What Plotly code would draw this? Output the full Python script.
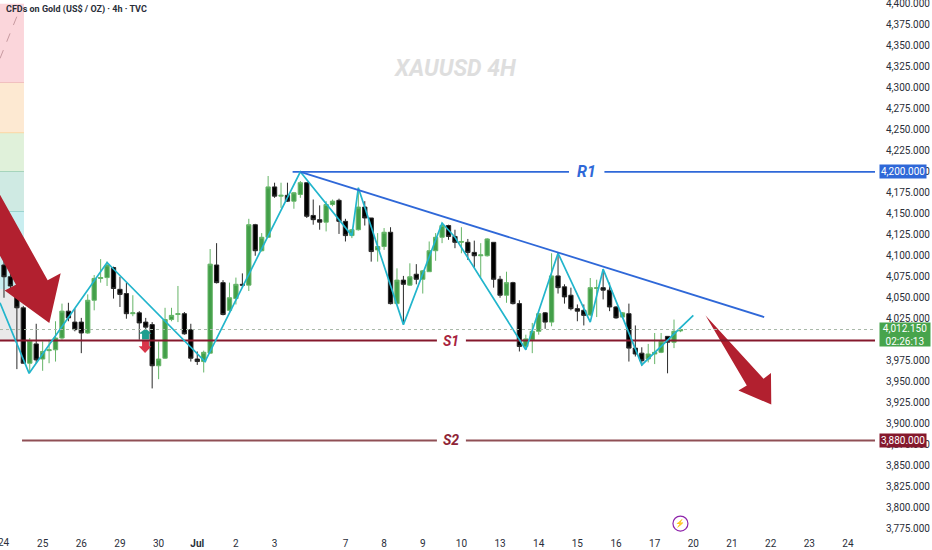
import plotly.graph_objects as go

# candles
opens = [4089, 4075, 4064, 4038, 3972, 3995, 3977, 3987, 3988, 4002, 4034, 4021, 4021, 4008, 4047, 4073, 4074, 4086,
         4060, 4055, 4031, 4032, 4021, 4018, 3969, 3978, 4024, 4030, 4031, 4012, 3977, 3974, 3984, 4089, 4068, 4035,
         4049, 4066, 4065, 4137, 4106, 4122, 4182, 4171, 4172, 4165, 4173, 4187, 4148, 4143, 4140, 4161, 4166, 4141,
         4124, 4131, 4158, 4145, 4107, 4111, 4128, 4043, 4071, 4065, 4078, 4072, 4081, 4106, 4122, 4136, 4123, 4116,
         4116, 4104, 4100, 4100, 4116, 4072, 4053, 4068, 4043, 3992, 4000, 4010, 4032, 4021, 4076, 4063, 4053, 4037,
         4035, 4029.5, 4061, 4062, 4059, 4039, 4027, 4031, 3990, 3984, 3977, 3983, 3985, 4004, 3997, 4010.5]
highs = [4095, 4097, 4068, 4040, 4002, 4019, 3998, 4000, 4022, 4043, 4044, 4037, 4026, 4054, 4077, 4096, 4093, 4087,
         4075, 4068, 4053, 4034, 4026, 4021, 3998, 4038, 4038, 4064, 4033, 4019, 3986, 3987, 4108, 4115, 4071, 4068,
         4074, 4079, 4144, 4138, 4127, 4195, 4187, 4187, 4187, 4176, 4189, 4187, 4167, 4160, 4165, 4167, 4168, 4144,
         4132, 4181, 4165, 4145, 4127, 4133, 4134, 4085, 4076, 4091, 4090, 4083, 4117, 4127, 4139, 4137, 4131, 4134,
         4120, 4118, 4115, 4121, 4116, 4076, 4081, 4069, 4047, 4006, 4020, 4032, 4033, 4103, 4101, 4066, 4062, 4042,
         4042, 4073.5, 4071.5, 4084, 4068, 4040, 4033, 4043, 4017, 3991, 3995, 4008, 4008, 4004, 4024, 4013]
lows = [4050, 4056, 3965, 3972, 3961, 3972, 3963, 3972, 3974, 4000, 4022, 4010, 3984, 4007, 4035, 4068, 4064, 4049,
        4039, 4025, 4028, 4000, 4006, 3942, 3953, 3977, 4022, 4021, 4006, 3974, 3970, 3961, 3984, 4067, 4029, 4032,
        4042, 4062, 4058, 4100, 4105, 4122, 4169, 4157, 4164, 4156, 4169, 4145, 4137, 4131, 4129, 4159, 4126, 4117,
        4121, 4130, 4136, 4093, 4093, 4107, 4042, 4042, 4018, 4064, 4066, 4055, 4081, 4094, 4115, 4119, 4109, 4103,
        4095, 4086, 4074, 4099, 4062, 4050, 4044, 4042, 3986, 3988, 3984, 4006, 4013, 4016, 4055, 4043, 4035, 4022,
        4017, 4028, 4027, 4048, 4034, 4025, 4026, 3974, 3980, 3969, 3973, 3971, 3984, 3960, 3990, 4009]
closes = [4075, 4064, 4038, 3972, 3999, 3976, 3986, 3988, 4002, 4034, 4026, 4012, 4008, 4047, 4073, 4074, 4089, 4061,
          4054, 4031, 4032, 4020, 4015, 3969, 3977, 4024, 4029, 4031, 4007, 3978, 3974, 3985, 4090, 4068, 4030, 4050,
          4066, 4065, 4137, 4106, 4122, 4182, 4171, 4172, 4165, 4175, 4187, 4147, 4143, 4140, 4161, 4165, 4141, 4124,
          4131, 4158, 4145, 4105, 4111, 4128, 4043, 4071, 4066, 4075, 4072, 4082, 4106, 4122, 4136, 4123, 4116, 4117,
          4104, 4100, 4101, 4120, 4072, 4053, 4068, 4043, 3992, 4001, 4010, 4031, 4021, 4076, 4062, 4051, 4037, 4034,
          4029, 4062, 4062, 4059, 4039, 4026, 4032, 3990, 3983, 3975, 3983, 3985, 3998, 3997, 4010, 4012.15]
bars = list(range(len(opens)))

# x axis labels
day_bars = [0, 6, 12, 18, 24, 30, 36, 42, 53, 59, 65, 71, 77, 83, 89, 95, 101, 107, 113, 119, 125, 131]
day_labels = ['24', '25', '26', '29', '30', '<b>Jul</b>', '2', '3', '7', '8', '9', '10', '13', '14', '15', '16', '17',
              '20', '21', '22', '23', '24']
price_ticks = list(range(3775, 4401, 25))

# drawn lines
zigzag_x = [-0.62, 3.9, 16, 31.2, 46, 54, 55, 62, 68, 70, 81, 86, 91, 93, 99, 107]
zigzag_y = [4044, 3960, 4092, 3974, 4200, 4124, 4181, 4018, 4139, 4122, 3988, 4103, 4021, 4084, 3970, 4029]
trend_x = [46, 118]
trend_y = [4200, 4027]
r1 = 4200
s1 = 3999
s2 = 3880
last_price = 4012.15

# fib bands on the left edge
band_edges = [4400, 4306, 4246, 4200, 4152, 4060, 3999]
band_fills = ['#fbd6db', '#fde9d2', '#e0f1da', '#cfeae3', '#c9eef0', '#e9e9ea']
band_lines = ['#e8a0a8', '#f5c26b', '#7fbf9f', '#55b5b5', '#c9eef0', '#8b1a2b']

# arrows
big_arrow_x = [108.9, 117.9, 119.05, 119.1, 114.0, 115.3]
big_arrow_y = [4028.7, 3953.4, 3960.5, 3922.8, 3939.5, 3945.4]
left_arrow_x = [-0.62, 6.78, 8.8, 7.04, 0.1, 1.86, -0.62]
left_arrow_y = [4172.7, 4070.8, 4079.1, 4020, 4058.5, 4065.6, 4100]
teal_x = [22.0, 20.9, 21.43, 21.43, 22.5, 22.5, 22.9]
teal_y = [4013.3, 4007, 4007, 4000.2, 4000.2, 4007, 4007]
red_x = [21.43, 22.5, 22.5, 22.9, 21.9, 20.9, 21.43]
red_y = [3999.4, 3999.4, 3992.3, 3992.3, 3984.3, 3992.3, 3992.3]

fig = go.Figure()

for i in range(len(band_fills)):
    fig.add_shape(type='rect', x0=-0.62, x1=3.1, y0=band_edges[i + 1], y1=band_edges[i], fillcolor=band_fills[i],
                  line_width=0, layer='below')
    fig.add_shape(type='line', x0=-0.62, x1=3.1, y0=band_edges[i + 1], y1=band_edges[i + 1],
                  line=dict(color=band_lines[i], width=1), layer='below')
fig.add_trace(go.Scatter(x=[-0.62, 2.0], y=[4335, 4385], mode='lines', line=dict(color='#c79aa0', width=1, dash='dash')))

fig.add_hline(y=last_price, line=dict(color='#a9b8a9', width=1, dash='dot'))

for ax, ay in [(left_arrow_x, left_arrow_y), (big_arrow_x, big_arrow_y)]:
    fig.add_trace(go.Scatter(x=ax, y=ay, mode='lines', fill='toself', fillcolor='#b2202f', line=dict(width=0)))
fig.add_trace(go.Scatter(x=teal_x, y=teal_y, mode='lines', fill='toself', fillcolor='#1f9e8f', line=dict(width=0)))
fig.add_trace(go.Scatter(x=red_x, y=red_y, mode='lines', fill='toself', fillcolor='#d9364a', line=dict(width=0)))

# level lines leave a gap for their label
fig.add_trace(go.Scatter(x=[44.8, 87.7, None, 93.2, 135.2], y=[r1] * 2 + [None] + [r1] * 2, mode='lines',
                         line=dict(color='#2f68d8', width=1.8)))
fig.add_trace(go.Scatter(x=[-0.62, 67.2, None, 71.7, 135.2], y=[s1] * 2 + [None] + [s1] * 2, mode='lines',
                         line=dict(color='#85182c', width=2)))
fig.add_trace(go.Scatter(x=[2.8, 67.2, None, 71.7, 135.2], y=[s2] * 2 + [None] + [s2] * 2, mode='lines',
                         line=dict(color='#8f4f55', width=2)))

fig.add_trace(go.Candlestick(
    x=bars, open=opens, high=highs, low=lows, close=closes, whiskerwidth=0,
    increasing=dict(line=dict(color='#66b568', width=1), fillcolor='#439f49'),
    decreasing=dict(line=dict(color='#2a2a2a', width=1), fillcolor='#000000')))

fig.add_trace(go.Scatter(x=zigzag_x, y=zigzag_y, mode='lines', line=dict(color='#22b5cc', width=1.7)))
fig.add_trace(go.Scatter(x=trend_x, y=trend_y, mode='lines', line=dict(color='#2f68d8', width=1.8)))

fig.add_trace(go.Scatter(x=[105], y=[3781], mode='markers+text', text=['⚡'], textposition='middle center',
                         textfont=dict(size=8, color='#8e24aa'),
                         marker=dict(symbol='circle-open', size=15, color='#8e24aa', line=dict(width=1.2))))

labels = [
    dict(x=90.4, y=r1, text='<b><i>R1</i></b>', font=dict(size=16, color='#2f68d8'), showarrow=False),
    dict(x=69.4, y=s1, text='<b><i>S1</i></b>', font=dict(size=14, color='#a8233d'), showarrow=False),
    dict(x=69.4, y=s2, text='<b><i>S2</i></b>', font=dict(size=14, color='#8f2436'), showarrow=False),
    dict(x=70, y=4323, text='<b><i>XAUUSD 4H</i></b>', font=dict(size=23, color='#dedede'), showarrow=False),
    dict(xref='paper', yref='paper', x=0.005, y=0.982, xanchor='left', yanchor='middle', showarrow=False,
         text='<b>CFDs on Gold (US$ / OZ) · 4h · TVC</b>', font=dict(size=9, color='#2a2e39')),
    # edge labels the axes would drop
    dict(x=0, yref='paper', y=0, yanchor='top', yshift=-3, text='24', showarrow=False, font=dict(size=10)),
    dict(xref='paper', x=1.0105, y=4400, xanchor='left', text='4,400.000', showarrow=False, font=dict(size=10)),
    dict(xref='paper', x=1.005, y=r1, xanchor='left', text='4,200.000', showarrow=False, bgcolor='#2f68d8',
         borderpad=1, font=dict(size=10, color='white')),
    dict(xref='paper', x=1.005, y=s2, xanchor='left', text='3,880.000', showarrow=False, bgcolor='#85182c',
         borderpad=1, font=dict(size=10, color='white')),
    dict(xref='paper', x=1.005, y=last_price - 6, xanchor='left', text='4,012.150<br>02:26:13', showarrow=False,
         bgcolor='#47a44c', width=48, height=21, font=dict(size=10, color='white')),
]

fig.update_layout(
    width=932, height=550, margin=dict(l=0, r=57, t=0, b=18, autoexpand=False),
    paper_bgcolor='white', plot_bgcolor='white', showlegend=False, hovermode=False, boxgap=0.05,
    font=dict(family='Roboto', size=10, color='#2a2e39'), annotations=labels,
    xaxis=dict(range=[-0.62, 135.2], rangeslider=dict(visible=False), showgrid=False, zeroline=False, showline=False,
               tickmode='array', tickvals=day_bars, ticktext=day_labels, ticks='outside', ticklen=2,
               tickcolor='rgba(0,0,0,0)', tickfont=dict(size=10)),
    yaxis=dict(range=[3771, 4404.6], side='right', showgrid=False, zeroline=False, showline=False,
               tickmode='array', tickvals=price_ticks, tickformat=',.3f', ticks='outside', ticklen=8,
               tickcolor='rgba(0,0,0,0)', tickfont=dict(size=10)),
)

# page margin would push the 932 wide figure out of the window
fig.write_html('out.html', config={'displayModeBar': False}, post_script="document.body.style.margin='0';")
